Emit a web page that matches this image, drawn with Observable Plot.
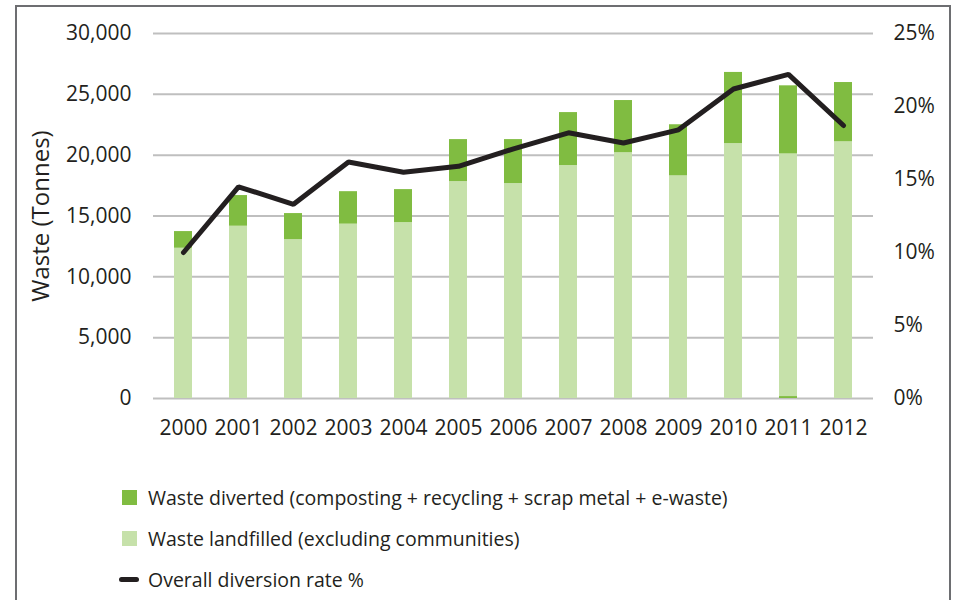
<!DOCTYPE html>
<html>
<head>
<meta charset="utf-8">
<script src="https://cdn.jsdelivr.net/npm/d3@7"></script>
<script src="https://cdn.jsdelivr.net/npm/@observablehq/plot@0.6"></script>
<style>
  html, body { margin: 0; padding: 0; background: #fff; width: 959px; height: 600px; overflow: hidden; }
  body { position: relative; font-family: "Open Sans", sans-serif; color: #231f20; }
  #frame { position: absolute; left: 15px; top: 5px; width: 936px; height: 700px; border: 2px solid #6d6e71; border-bottom: none; box-sizing: border-box; }
  #chart { position: absolute; left: 0; top: 0; }
  .leg { position: absolute; left: 122px; height: 20px; display: flex; align-items: center; font-size: 19.5px; white-space: nowrap; }
  .sw { width: 15px; height: 15px; margin-right: 11px; }
  .ln { width: 20px; height: 5px; border-radius: 3px; background: #231f20; margin-left: -3px; margin-right: 9px; }
</style>
</head>
<body>
<div id="frame"></div>
<div id="chart"></div>
<div id="legend"></div>
<script>
const years = ["2000","2001","2002","2003","2004","2005","2006","2007","2008","2009","2010","2011","2012"];
const landfilled = [12350, 14160, 13060, 14330, 14460, 17830, 17670, 19150, 20200, 18300, 20950, 19940, 21100];
const diverted = [1370, 2520, 2140, 2670, 2710, 3450, 3610, 4350, 4290, 4200, 5850, 5600, 4870];
const divertedBase = [0, 0, 0, 0, 0, 0, 0, 0, 0, 0, 0, 160, 0];
const diversionRate = [10.0, 14.5, 13.3, 16.2, 15.5, 15.9, 17.1, 18.2, 17.5, 18.4, 21.2, 22.2, 18.7];
const wasteTicks = [0, 5000, 10000, 15000, 20000, 25000, 30000];
const rateTicks = [0, 5, 10, 15, 20, 25];
const legendLabels = [
  "Waste diverted (composting + recycling + scrap metal + e-waste)",
  "Waste landfilled (excluding communities)",
  "Overall diversion rate %"
];
const yTitle = "Waste (Tonnes)";

const darkGreen = "#80bc41";
const lightGreen = "#c6e1aa";
const lineColor = "#231f20";
const scale = 30000 / 25;

const rows = years.flatMap((yr, i) => [
  {year: yr, series: "base", value: divertedBase[i]},
  {year: yr, series: "landfilled", value: landfilled[i]},
  {year: yr, series: "diverted", value: diverted[i]}
]);
const rateRows = years.map((yr, i) => ({year: yr, rate: diversionRate[i]}));

const chart = Plot.plot({
  width: 959,
  height: 460,
  marginLeft: 153,
  marginRight: 86,
  marginTop: 33,
  marginBottom: 62,
  style: {fontFamily: "Open Sans, sans-serif", fontSize: "21px", color: "#231f20", background: "transparent"},
  x: {domain: years, paddingInner: 0.675, paddingOuter: 0.3375, label: null},
  y: {domain: [0, 30000], label: null},
  color: {domain: ["base", "landfilled", "diverted"], range: [darkGreen, lightGreen, darkGreen]},
  marks: [
    Plot.ruleY(wasteTicks, {stroke: "#bfbfbf", strokeWidth: 2}),
    Plot.barY(rows, {x: "year", y: "value", fill: "series"}),
    Plot.lineY(rateRows, {x: "year", y: d => d.rate * scale, stroke: lineColor, strokeWidth: 5, strokeLinejoin: "miter", strokeLinecap: "round"}),
    Plot.axisX({tickSize: 0, tickPadding: 22, label: null, fontSize: 21}),
    Plot.axisY({ticks: wasteTicks, tickFormat: d3.format(","), tickSize: 0, tickPadding: 22, label: null, fontSize: 21}),
    Plot.axisY({anchor: "right", ticks: rateTicks.map(p => p * scale), tickFormat: d => Math.round(d / scale) + "%", tickSize: 0, tickPadding: 20, label: null, fontSize: 21}),
    Plot.text([yTitle], {text: d => d, frameAnchor: "left", dx: -112, rotate: -90, textAnchor: "middle", fontSize: 24, fill: "#231f20"})
  ]
});
document.getElementById("chart").appendChild(chart);

const legend = document.getElementById("legend");
const tops = [487, 528, 569];
legendLabels.forEach((lab, i) => {
  const row = document.createElement("div");
  row.className = "leg";
  row.style.top = tops[i] + "px";
  const key = document.createElement("div");
  if (i < 2) { key.className = "sw"; key.style.background = i === 0 ? darkGreen : lightGreen; }
  else { key.className = "ln"; }
  row.appendChild(key);
  const t = document.createElement("span");
  t.textContent = lab;
  row.appendChild(t);
  legend.appendChild(row);
});
</script>
</body>
</html>
